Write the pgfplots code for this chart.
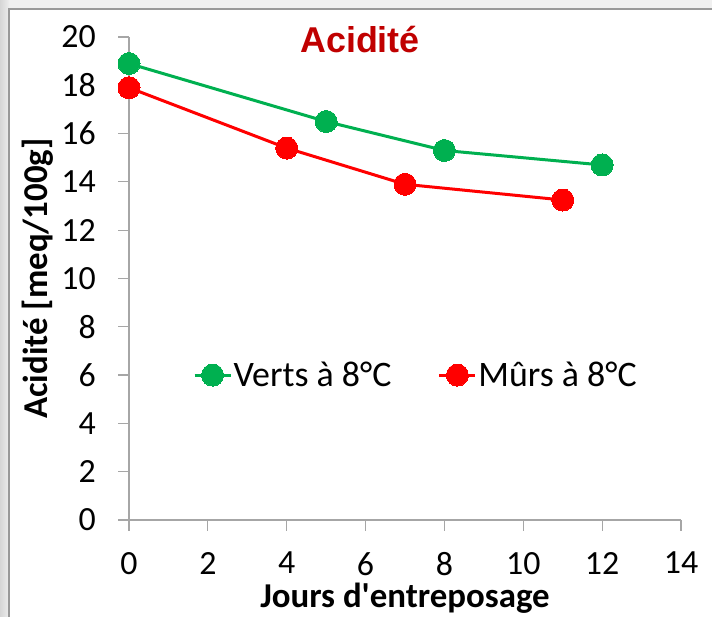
\documentclass[border=0pt]{standalone}
\usepackage{fontspec}
\setmainfont{Carlito}
\newfontfamily\arialfont{Liberation Sans}
\usepackage{pgfplots}
\pgfplotsset{compat=1.18}
\definecolor{vert}{HTML}{00B050}
\definecolor{rouge}{HTML}{FF0000}
\definecolor{titre}{HTML}{C00000}
\definecolor{axisgray}{HTML}{A6A6A6}
\begin{document}
\begin{tikzpicture}[x=1bp,y=1bp]
\useasboundingbox (0,0) rectangle (712,617);
\fill[black!6] (0,0) rectangle (712,617);
\shade[left color=black!16, right color=black!7] (0,0) rectangle (9,617);
\fill[white] (9,0) rectangle (712,608);
\draw[black!40, line width=1.5bp] (9,0) -- (9,608) -- (712,608);
\node[anchor=base, text=titre, font=\arialfont\bfseries\fontsize{36}{43}\selectfont] at (360,564) {Acidité};
\begin{axis}[
  at={(129bp,97bp)}, anchor=south west, scale only axis,
  width=552bp, height=483bp,
  xmin=0, xmax=14, ymin=0, ymax=20,
  xtick={0,2,...,14}, ytick={0,2,...,20},
  axis x line*=bottom, axis y line*=left,
  axis line style={axisgray, line width=1.2bp, -},
  tick style={axisgray, line width=1.2bp},
  tick align=outside, major tick length=11bp,
  /pgf/number format/assume math mode=true,
  ticklabel style={font=\fontsize{34}{40}\selectfont, text=black, inner sep=0pt},
  xticklabel style={anchor=north, yshift=-21bp},
  yticklabel style={anchor=east, xshift=-22bp},
  xlabel={Jours d\textquotesingle entreposage},
  ylabel={Acidité [meq/100g]},
  label style={font=\bfseries\fontsize{35}{42}\selectfont},
  xlabel style={at={(axis description cs:0.5,-0.181)}, anchor=base, inner sep=0pt},
  ylabel style={at={(axis description cs:-0.165,0.5)}, anchor=center, inner sep=0pt},
  legend columns=2,
  legend style={draw=none, fill=none, at={(axis cs:1.62,6)}, anchor=west,
    inner sep=0pt, font=\fontsize{36}{43}\selectfont,
    /tikz/every even column/.append style={column sep=45bp},
    nodes={inner sep=1.5bp}},
  legend image code/.code={\draw[#1, mark repeat=2, mark phase=2] plot coordinates {(0bp,0bp) (18bp,0bp) (36bp,0bp)};},
]
\addplot[vert, line width=3bp, mark=*, mark size=11bp, mark options={fill=vert, draw=vert, line width=0pt}]
  coordinates {(0,18.9) (5,16.5) (8,15.3) (12,14.7)};
\addlegendentry{Verts à 8°C}
\addplot[rouge, line width=3bp, mark=*, mark size=11bp, mark options={fill=rouge, draw=rouge, line width=0pt}]
  coordinates {(0,17.9) (4,15.4) (7,13.9) (11,13.25)};
\addlegendentry{Mûrs à 8°C}
\end{axis}
\end{tikzpicture}
\end{document}
